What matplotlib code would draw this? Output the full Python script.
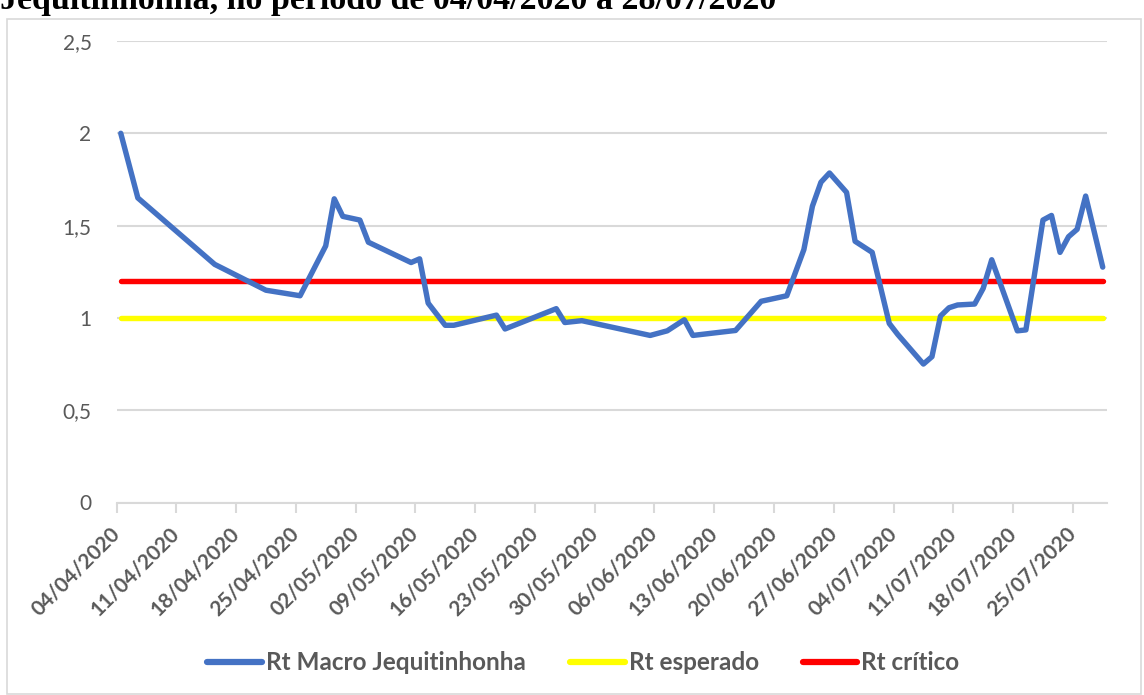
import matplotlib
matplotlib.use("Agg")
import matplotlib.pyplot as plt
from matplotlib.patches import Rectangle
from datetime import date, timedelta

# ---- data ----
start_date = date(2020, 4, 4)
n_days = 116  # 04/04/2020 .. 28/07/2020
dates = ["04/04/2020", "06/04/2020", "15/04/2020", "21/04/2020", "25/04/2020",
         "28/04/2020", "29/04/2020", "30/04/2020", "02/05/2020", "03/05/2020",
         "08/05/2020", "09/05/2020", "10/05/2020", "12/05/2020", "13/05/2020",
         "18/05/2020", "19/05/2020", "25/05/2020", "26/05/2020", "28/05/2020",
         "05/06/2020", "07/06/2020", "09/06/2020", "10/06/2020", "15/06/2020",
         "18/06/2020", "21/06/2020", "23/06/2020", "24/06/2020", "25/06/2020",
         "26/06/2020", "28/06/2020", "29/06/2020", "01/07/2020", "03/07/2020",
         "04/07/2020", "07/07/2020", "08/07/2020", "09/07/2020", "10/07/2020",
         "11/07/2020", "13/07/2020", "14/07/2020", "15/07/2020", "18/07/2020",
         "19/07/2020", "21/07/2020", "22/07/2020", "23/07/2020", "24/07/2020",
         "25/07/2020", "26/07/2020", "28/07/2020"]
rt_macro = [2.00, 1.65, 1.29, 1.15, 1.12,
            1.39, 1.645, 1.55, 1.53, 1.41,
            1.30, 1.32, 1.08, 0.96, 0.96,
            1.015, 0.94, 1.05, 0.975, 0.985,
            0.905, 0.93, 0.99, 0.905, 0.932,
            1.09, 1.12, 1.37, 1.605, 1.735,
            1.785, 1.68, 1.415, 1.355, 0.97,
            0.91, 0.75, 0.79, 1.01, 1.055,
            1.07, 1.075, 1.16, 1.315, 0.93,
            0.935, 1.53, 1.555, 1.355, 1.44,
            1.48, 1.66, 1.275]
rt_esperado = 1.0
rt_critico = 1.2
labels = ["Rt Macro Jequitinhonha", "Rt esperado", "Rt crítico"]
title = "Jequitinhonha, no período de 04/04/2020 a 28/07/2020"
yticks = [0, 0.5, 1, 1.5, 2, 2.5]
ytick_labels = ["0", "0,5", "1", "1,5", "2", "2,5"]


def day_index(s):
    d, m, y = (int(p) for p in s.split("/"))
    return (date(y, m, d) - start_date).days


x = [day_index(s) for s in dates]
x_first, x_last = x[0], x[-1]

W, H = 1144, 695
fig = plt.figure(figsize=(W / 100, H / 100), dpi=100)
fig.patch.set_facecolor("white")

# outer chart border
fig.add_artist(Rectangle((7 / W, 1 / H), (1141 - 7) / W, (676 - 1) / H,
                         transform=fig.transFigure, fill=False,
                         edgecolor="#D9D9D9", linewidth=1.2))

ax = fig.add_axes([116.5 / W, (H - 502.5) / H, (1107 - 116.5) / W, (502.5 - 41) / H])
ax.set_xlim(-0.5, n_days - 0.5)
ax.set_ylim(0, 2.5)

gray_txt = "#595959"
grid_c = "#D9D9D9"

ax.set_yticks(yticks)
ax.set_yticklabels(ytick_labels, fontsize=15, color=gray_txt, family="Lato")
ax.tick_params(axis="y", length=0, pad=18)
ax.yaxis.grid(True, color=grid_c, linewidth=1.5)
ax.set_axisbelow(True)

tick_pos = [i - 0.5 for i in range(0, n_days, 7)]
tick_lab = [(start_date + timedelta(days=i)).strftime("%d/%m/%Y") for i in range(0, n_days, 7)]
ax.set_xticks(tick_pos)
ax.set_xticklabels(tick_lab, rotation=45, ha="right", va="center",
                   rotation_mode="anchor", fontsize=15, fontweight="bold",
                   color=gray_txt, family="Lato")
ax.tick_params(axis="x", length=7, width=1.5, color=grid_c, pad=13)

for s in ["top", "right", "left"]:
    ax.spines[s].set_visible(False)
ax.spines["bottom"].set_color(grid_c)
ax.spines["bottom"].set_linewidth(1.5)

lw = 3.9
ax.plot(x, rt_macro, color="#4472C4", linewidth=lw, solid_joinstyle="round",
        solid_capstyle="round", label=labels[0], zorder=3)
ax.plot([x_first, x_last], [rt_esperado, rt_esperado], color="#FFFF00", linewidth=lw,
        solid_capstyle="round", label=labels[1], zorder=2)
ax.plot([x_first, x_last], [rt_critico, rt_critico], color="#FF0000", linewidth=lw,
        solid_capstyle="round", label=labels[2], zorder=2)

leg = fig.legend(loc="center", bbox_to_anchor=(583.5 / W, (H - 663) / H), ncol=3,
                 frameon=False, handlelength=2.25, handletextpad=0.17,
                 columnspacing=1.8, prop={"family": "Lato", "weight": "bold", "size": 17.5})
for t in leg.get_texts():
    t.set_color(gray_txt)
for h in leg.get_lines():
    h.set_linewidth(4.5)
    h.set_solid_capstyle("round")

fig.text(0 / W, (H - 9) / H, title, ha="left", va="baseline",
         fontsize=24.5, fontweight="bold", family="Liberation Serif", color="black")

fig.savefig("out.png", dpi=100)
